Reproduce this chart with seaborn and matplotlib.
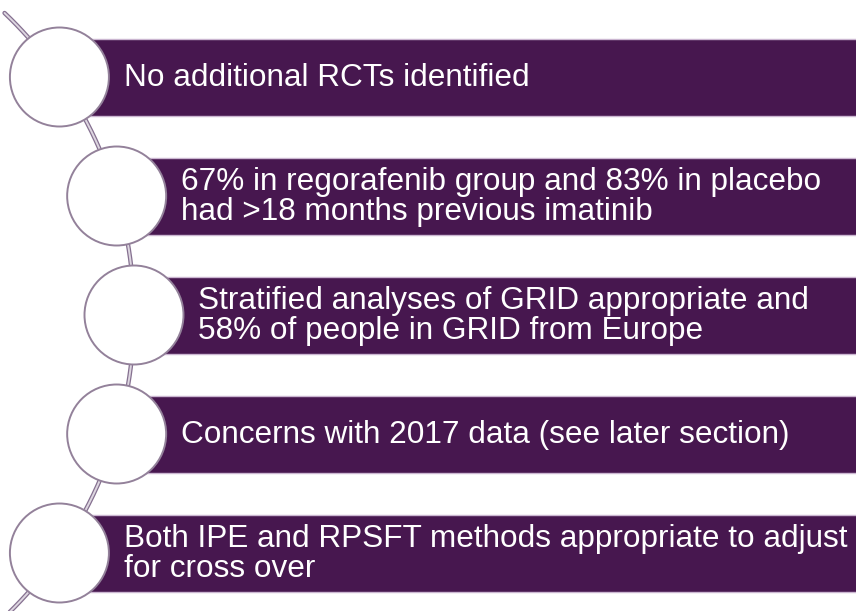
import numpy as np
import pandas as pd
import matplotlib
matplotlib.use("Agg")
import matplotlib.pyplot as plt
import seaborn as sns
from matplotlib.patches import Circle

# ---- data ----
items = [
    "No additional RCTs identified",
    "67% in regorafenib group and 83% in placebo\nhad >18 months previous imatinib",
    "Stratified analyses of GRID appropriate and\n58% of people in GRID from Europe",
    "Concerns with 2017 data (see later section)",
    "Both IPE and RPSFT methods appropriate to adjust\nfor cross over",
]

# ---- style ----
sns.set_theme(style="white")
plt.rcParams['font.family'] = ['Liberation Sans', 'DejaVu Sans']

W, H = 856, 611
fig = plt.figure(figsize=(W / 100, H / 100), dpi=100)
ax = fig.add_axes([0, 0, 1, 1])
ax.set_xlim(0, W)
ax.set_ylim(H, 0)
ax.set_aspect('equal')
ax.axis('off')

bar_color = "#47174f"
edge_light = "#cbb6d1"
circle_edge = "#93819a"

# layout geometry (arc through circle centres)
n = len(items)
y0, step = 77.0, 119.0
ys = y0 + step * np.arange(n)
cy_mid = ys[n // 2]
arc_cx, arc_R = -283.0, 417.0
xs = arc_cx + np.sqrt(arc_R**2 - (ys - cy_mid)**2)
r = 49.5
bar_h = 77.0

# connecting arc
ty = np.linspace(13, H + 5, 200)
tx = arc_cx + np.sqrt(np.clip(arc_R**2 - (ty - cy_mid)**2, 0, None))
arc_df = pd.DataFrame({"x": tx, "y": ty})
sns.lineplot(data=arc_df, x="x", y="y", sort=False, ax=ax, color="#857090",
             lw=3.2, zorder=1, estimator=None)
sns.lineplot(data=arc_df, x="x", y="y", sort=False, ax=ax, color="#ddd6e0",
             lw=1.4, zorder=1.1, estimator=None)

# bars
ax.barh(ys, W + 10 - xs, left=xs, height=bar_h, color=bar_color,
        edgecolor=edge_light, linewidth=1.0, zorder=2)

# circles and text
for x, y, label in zip(xs, ys, items):
    ax.add_patch(Circle((x, y), r, facecolor="white", edgecolor=circle_edge,
                        linewidth=1.4, zorder=3))
    ax.text(x + r + 15, y + 1, label, color="white", fontsize=22.7,
            ha="left", va="center", linespacing=0.98, zorder=4)

fig.savefig("out.png", dpi=100)
